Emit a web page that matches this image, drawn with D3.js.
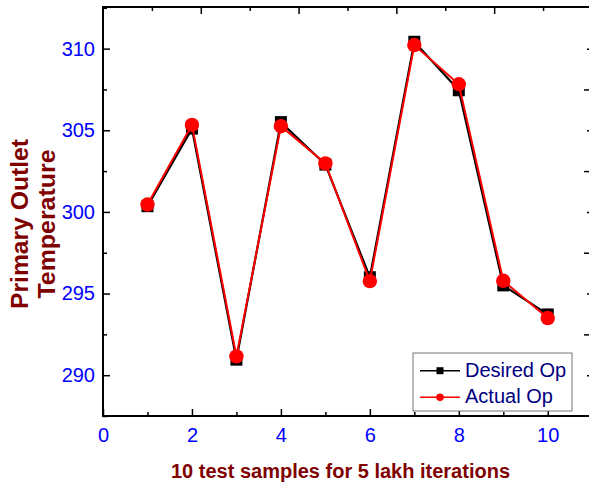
<!DOCTYPE html>
<html>
<head>
<meta charset="utf-8">
<script src="https://cdn.jsdelivr.net/npm/d3@7"></script>
<style>
  body { margin: 0; background: #fff; }
  svg { display: block; font-family: Arial, "Liberation Sans", sans-serif; }
</style>
</head>
<body>
<svg id="chart" width="589" height="487"></svg>
<script>
// data
var samples = [1, 2, 3, 4, 5, 6, 7, 8, 9, 10];
var desiredOp = [300.35, 305.1, 290.95, 305.5, 302.9, 296.0, 310.42, 307.45, 295.5, 293.72];
var actualOp = [300.45, 305.33, 291.15, 305.25, 302.97, 295.76, 310.22, 307.82, 295.78, 293.5];
var xTicks = [0, 2, 4, 6, 8, 10];
var yTicks = [290, 295, 300, 305, 310];

var svg = d3.select("#chart"),
    cs = {
        left: 103, right: 590, top: 7, bottom: 416,
        tickColor: "#0000ff",
        titleColor: "#800000",
        legendColor: "#000080"
    };

var x = d3.scaleLinear().domain([0, 10.95]).range([cs.left, cs.right]);
var xTop = d3.scaleLinear().domain([0, 9.96]).range([cs.left, cs.right]);
var y = d3.scaleLinear().domain([287.5, 312.55]).range([cs.bottom, cs.top]);

// bare tick marks, no labels
function tickAxis(axisFn, scale, vals, len) {
    return axisFn(scale).tickValues(vals).tickSize(-len).tickFormat("");
}

var xMinor = d3.range(1, 11, 2);
var yMinor = d3.range(287.5, 312.6, 5);

svg.append("g").attr("transform", "translate(0," + cs.bottom + ")")
    .call(tickAxis(d3.axisBottom, x, xMinor, 4));
svg.append("g").attr("transform", "translate(0," + cs.bottom + ")")
    .call(d3.axisBottom(x).tickValues(xTicks).tickSize(-7).tickPadding(12).tickFormat(d3.format("d")));
svg.append("g").attr("transform", "translate(0," + cs.top + ")")
    .call(tickAxis(d3.axisTop, xTop, xMinor.filter(d => d < 10), 4));
svg.append("g").attr("transform", "translate(0," + cs.top + ")")
    .call(tickAxis(d3.axisTop, xTop, [2, 4, 6, 8], 7));

svg.append("g").attr("transform", "translate(" + cs.left + ",0)")
    .call(tickAxis(d3.axisLeft, y, yMinor, 4));
svg.append("g").attr("transform", "translate(" + cs.left + ",0)")
    .call(d3.axisLeft(y).tickValues(yTicks).tickSize(-7).tickPadding(8).tickFormat(d3.format("d")));
svg.append("g").attr("transform", "translate(" + cs.right + ",0)")
    .call(tickAxis(d3.axisRight, y, yTicks, 3));
svg.append("g").attr("transform", "translate(" + cs.right + ",0)")
    .call(tickAxis(d3.axisRight, y, [292.5, 297.5, 302.5, 307.5], 6));

svg.selectAll(".domain").remove();
svg.selectAll(".tick line").attr("stroke", "#000").attr("stroke-width", 1.5);
svg.selectAll(".tick text").attr("fill", cs.tickColor).style("font-size", "20px");

// frame
svg.append("rect")
    .attr("x", cs.left).attr("y", cs.top)
    .attr("width", cs.right - cs.left).attr("height", cs.bottom - cs.top)
    .attr("fill", "none").attr("stroke", "#000").attr("stroke-width", 2);

var desired = samples.map((s, i) => ({ x: s, y: desiredOp[i] }));
var actual = samples.map((s, i) => ({ x: s, y: actualOp[i] }));
var line = d3.line().x(d => x(d.x)).y(d => y(d.y));

svg.append("path").datum(desired).attr("d", line)
    .attr("fill", "none").attr("stroke", "#000").attr("stroke-width", 2.2);
svg.selectAll(".sq").data(desired).enter().append("rect")
    .attr("x", d => x(d.x) - 6).attr("y", d => y(d.y) - 6)
    .attr("width", 12).attr("height", 12).attr("fill", "#000");

svg.append("path").datum(actual).attr("d", line)
    .attr("fill", "none").attr("stroke", "#ff0000").attr("stroke-width", 2);
svg.selectAll(".dot").data(actual).enter().append("circle")
    .attr("cx", d => x(d.x)).attr("cy", d => y(d.y)).attr("r", 7.2)
    .attr("fill", "#ff0000");

// legend
var lg = svg.append("g");
lg.append("rect").attr("x", 413).attr("y", 353).attr("width", 159).attr("height", 58)
    .attr("fill", "#fff").attr("stroke", "#777").attr("stroke-width", 1);
var entries = [
    { label: "Desired Op", color: "#000", shape: "square" },
    { label: "Actual Op", color: "#ff0000", shape: "circle" }
];
entries.forEach((e, i) => {
    var ly = 370.7 + i * 26.6;
    lg.append("line").attr("x1", 420).attr("x2", 460).attr("y1", ly).attr("y2", ly)
        .attr("stroke", e.color).attr("stroke-width", 1.5);
    if (e.shape === "square") {
        lg.append("rect").attr("x", 436.5).attr("y", ly - 3.5).attr("width", 7).attr("height", 7).attr("fill", e.color);
    } else {
        lg.append("circle").attr("cx", 440).attr("cy", ly).attr("r", 3.8).attr("fill", e.color);
    }
    lg.append("text").attr("x", 465).attr("y", ly + 6).text(e.label)
        .attr("fill", cs.legendColor).style("font-size", "20px");
});

// axis titles
svg.append("text").attr("x", 340.5).attr("y", 478).attr("text-anchor", "middle")
    .attr("fill", cs.titleColor).style("font-size", "20px").style("font-weight", "bold")
    .text("10 test samples for 5 lakh iterations");

var yt = svg.append("text").attr("transform", "translate(0,224) rotate(-90)")
    .attr("text-anchor", "middle").attr("fill", cs.titleColor)
    .style("font-size", "23.5px").style("font-weight", "bold");
yt.append("tspan").attr("x", 0).attr("y", 28).attr("textLength", 170)
    .attr("lengthAdjust", "spacingAndGlyphs").text("Primary Outlet");
yt.append("tspan").attr("x", 0).attr("y", 55).attr("textLength", 149)
    .attr("lengthAdjust", "spacingAndGlyphs").text("Temperature");
</script>
</body>
</html>
